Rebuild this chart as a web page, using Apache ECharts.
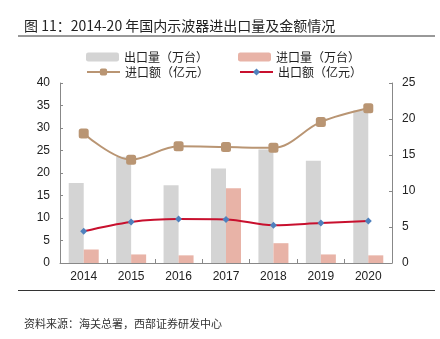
<!DOCTYPE html>
<html><head><meta charset="utf-8">
<script src="https://cdn.jsdelivr.net/npm/echarts@6/dist/echarts.min.js"></script>
<style>html,body{margin:0;padding:0;background:#fff;}#c{width:440px;height:339px;}</style>
</head><body><div id="c"></div>
<script>
const categories = ['2014','2015','2016','2017','2018','2019','2020'];
const exportQty = [17.8, 23.6, 17.3, 21.0, 25.2, 22.7, 33.9];
const importQty = [3.0, 1.9, 1.7, 16.6, 4.4, 1.9, 1.7];
const importAmt = [18.0, 14.35, 16.2, 16.1, 16.0, 19.6, 21.5];
const exportAmt = [4.4, 5.7, 6.1, 6.05, 5.25, 5.55, 5.85];
const leftTicks = [0, 40, 5];
const rightTicks = [0, 25, 5];

const chart = echarts.init(document.getElementById('c'));
const axisFont = {fontFamily: 'Liberation Sans, Arial', fontSize: 12, color: '#222'};
chart.setOption({
  animation: false,
  title: [{
    text: '图 11：2014-20 年国内示波器进出口量及金额情况',
    left: 19, top: 14,
    textStyle: {fontFamily: 'Noto Sans CJK SC', fontSize: 14, fontWeight: 'normal', color: '#222'}
  }, {
    text: '资料来源：海关总署，西部证券研发中心',
    left: 19, top: 313,
    textStyle: {fontFamily: 'Noto Sans CJK SC', fontSize: 11, fontWeight: 'normal', color: '#333'}
  }],
  graphic: [
    {type: 'line', shape: {x1: 18, y1: 36, x2: 435, y2: 36}, style: {stroke: '#333', lineWidth: 1}},
    {type: 'line', shape: {x1: 18, y1: 290.5, x2: 435, y2: 290.5}, style: {stroke: '#333', lineWidth: 1}}
  ],
  legend: [{
    data: ['出口量（万台）', '进口量（万台）'],
    left: 81, top: 46, itemGap: 30, itemWidth: 33, itemHeight: 9,
    textStyle: {fontFamily: 'Noto Sans CJK SC', fontSize: 12, color: '#222'}
  }, {
    data: ['进口额（亿元）', '出口额（亿元）'],
    left: 81, top: 61, itemGap: 30, itemWidth: 33, itemHeight: 9,
    textStyle: {fontFamily: 'Noto Sans CJK SC', fontSize: 12, color: '#222'}
  }],
  grid: {left: 60, right: 48, top: 83, bottom: 76, containLabel: false},
  xAxis: {
    type: 'category', data: categories,
    axisLine: {lineStyle: {color: '#888'}},
    axisTick: {show: true, inside: true, length: 4, lineStyle: {color: '#888'}},
    axisLabel: Object.assign({margin: 8}, axisFont)
  },
  yAxis: [{
    type: 'value', min: leftTicks[0], max: leftTicks[1], interval: leftTicks[2],
    splitLine: {show: false},
    axisLine: {show: true, lineStyle: {color: '#888'}},
    axisTick: {show: true, inside: true, length: 3, lineStyle: {color: '#888'}},
    axisLabel: Object.assign({margin: 10}, axisFont)
  }, {
    type: 'value', min: rightTicks[0], max: rightTicks[1], interval: rightTicks[2],
    splitLine: {show: false},
    axisLine: {show: true, lineStyle: {color: '#888'}},
    axisTick: {show: true, inside: true, length: 3, lineStyle: {color: '#888'}},
    axisLabel: Object.assign({margin: 10}, axisFont)
  }],
  series: [{
    name: '出口量（万台）', type: 'bar', data: exportQty, barWidth: 15, barGap: '0%',
    itemStyle: {color: '#d4d4d4'}
  }, {
    name: '进口量（万台）', type: 'bar', data: importQty, barWidth: 15,
    itemStyle: {color: '#e8b3a7'}
  }, {
    name: '进口额（亿元）', type: 'line', yAxisIndex: 1, data: importAmt, smooth: 0.35,
    symbol: 'roundRect', symbolSize: 10,
    lineStyle: {color: '#b99573', width: 2},
    itemStyle: {color: '#b99573'}
  }, {
    name: '出口额（亿元）', type: 'line', yAxisIndex: 1, data: exportAmt, smooth: 0.35,
    symbol: 'diamond', symbolSize: 7,
    lineStyle: {color: '#c8102e', width: 2},
    itemStyle: {color: '#4f81bd'}
  }]
});
</script></body></html>
